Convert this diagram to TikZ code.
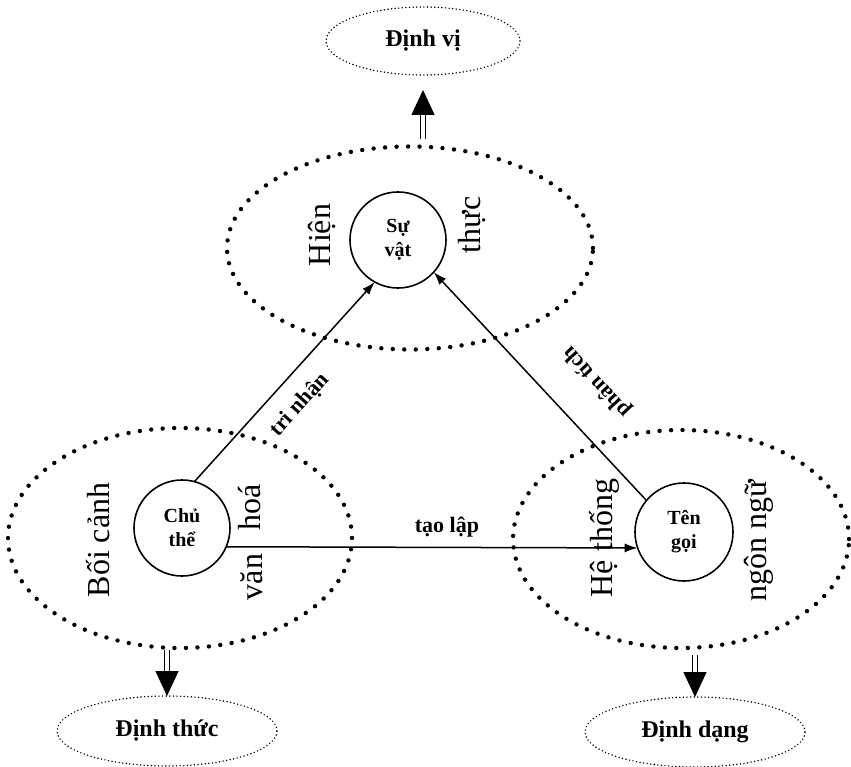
\documentclass[tikz,border=0pt]{standalone}
\usepackage{fontspec}
\setmainfont{Liberation Serif}
\usetikzlibrary{arrows.meta,calc,shapes.geometric}
\begin{document}
\begin{tikzpicture}[x=1pt,y=-1pt,
  every node/.style={inner sep=0pt, outer sep=0pt},
  bigell/.style={ellipse, draw, line width=4.4pt, line cap=round, dash pattern=on 0pt off 11.5pt},
  smallell/.style={ellipse, draw, line width=1.6pt, line cap=round, dash pattern=on 0pt off 3.6pt, font=\fontsize{24}{28}\selectfont\bfseries},
  ctr/.style={circle, draw, line width=1.6pt, minimum size=96pt, align=center, font=\fontsize{20}{24}\selectfont\bfseries},
  biglbl/.style={rotate=90, anchor=base, font=\fontsize{32}{38}\selectfont},
  edgelbl/.style={font=\fontsize{22}{26}\selectfont\bfseries},
  conn/.style={line width=1.5pt, -{Latex[length=13pt,width=9pt]}},
  dbl/.style={double, double distance=4pt, line width=1.4pt, -{Triangle[length=25pt,width=23pt]}}
]
\fill[white] (0,0) rectangle (851,767);
\useasboundingbox (0,0) rectangle (851,767);

% big dotted ellipses
\node[bigell, minimum width=366pt, minimum height=203pt] (hien) at (410,248) {};
\node[bigell, minimum width=344pt, minimum height=220pt] (boi) at (180,538) {};
\node[bigell, minimum width=336pt, minimum height=218pt] (he) at (681,539) {};

% small dotted ellipses
\node[smallell, minimum width=194pt, minimum height=68pt] (dinhvi) at (423,41) {Định vị};
\node[smallell, minimum width=220pt, minimum height=70pt] (dthuc) at (167,731) {Định thức};
\node[smallell, minimum width=220pt, minimum height=70pt] (ddang) at (695,732) {Định dạng};

% circles
\node[ctr] (suvat) at (398,240) {Sự\\vật};
\node[ctr] (chu) at (182,528) {Chủ\\thể};
\node[ctr, minimum size=98pt] (ten) at (684,532) {Tên\\gọi};

% rotated labels
\node[biglbl] (lhien) at (330,235) {Hiện};
\node[biglbl] (lthuc) at (480,225) {thực};
\node[biglbl] (lboi) at (109,540) {Bối cảnh};
\node[biglbl] (lhoa) at (260,507) {hoá};
\node[biglbl] (lvan) at (262,577) {văn};
\node[biglbl] (lhe) at (612,538) {Hệ thống};
\node[biglbl] (lngon) at (766,541) {ngôn ngữ};

% connectors
\draw[conn] (chu.75) -- (suvat.241);
\draw[conn] (ten.140) -- (suvat.318);
\draw[conn] (chu.-23) -- (ten.199);

% edge labels
\node[edgelbl, rotate=47.7] (ltri) at (300,405) {tri nhận};
\node[edgelbl, rotate=132.7] (lphan) at (597,382) {phân tích};
\node[edgelbl] (ltao) at (447,527) {tạo lập};

% double arrows
\draw[dbl] ($(dinhvi.south |- hien.north)+(0,-7)$) -- ($(dinhvi.south)+(0,15)$);
\draw[dbl] ($(dthuc.north |- boi.south)+(0,2)$) -- (dthuc.north);
\draw[dbl] ($(ddang.north |- he.south)+(0,7)$) -- (ddang.north);
\end{tikzpicture}
\end{document}
